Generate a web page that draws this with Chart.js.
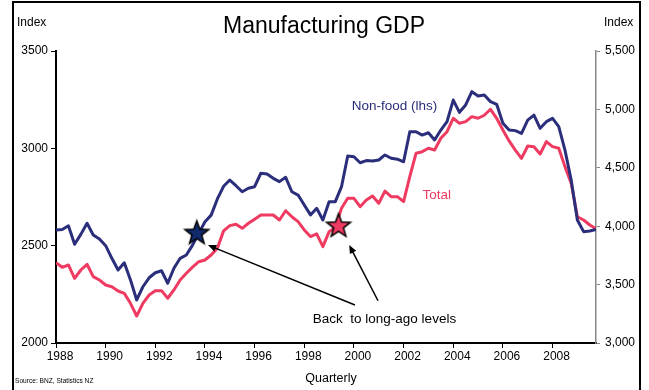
<!DOCTYPE html>
<html>
<head>
<meta charset="utf-8">
<script src="https://cdn.jsdelivr.net/npm/chart.js@4.4.1/dist/chart.umd.min.js"></script>
<style>
  html, body { margin: 0; padding: 0; background: #fff; }
</style>
</head>
<body>
<canvas id="myChart" width="649" height="390"></canvas>
<script>
// quarterly index, 1988 Q1 .. 2009 Q4
const firstYear = 1988;
const nonFood = [
    2580, 2583, 2602, 2507, 2558, 2615, 2555, 2534,
    2500, 2435, 2375, 2412, 2324, 2221, 2289, 2335,
    2361, 2371, 2307, 2384, 2435, 2452, 2503, 2563,
    2623, 2657, 2740, 2805, 2837, 2808, 2777, 2795,
    2803, 2872, 2868, 2846, 2829, 2851, 2777, 2760,
    2709, 2658, 2692, 2632, 2726, 2726, 2803, 2961,
    2957, 2926, 2937, 2935, 2940, 2966, 2949, 2944,
    2931, 3085, 3085, 3068, 3080, 3043, 3094, 3137,
    3248, 3185, 3223, 3291, 3269, 3274, 3240, 3226,
    3129, 3094, 3091, 3077, 3145, 3171, 3103, 3137,
    3154, 3111, 2991, 2837, 2632, 2572, 2575, 2583
];
const total = [
    3688, 3648, 3668, 3554, 3625, 3674, 3568, 3539,
    3497, 3482, 3445, 3425, 3340, 3231, 3340, 3411,
    3448, 3448, 3383, 3454, 3539, 3597, 3650, 3696,
    3711, 3753, 3811, 3960, 4005, 4016, 3982, 4025,
    4060, 4096, 4096, 4096, 4053, 4132, 4081, 4039,
    3968, 3911, 3934, 3825, 3953, 3990, 4153, 4239,
    4239, 4167, 4224, 4259, 4196, 4300, 4253, 4253,
    4210, 4424, 4624, 4638, 4667, 4652, 4753, 4809,
    4924, 4881, 4895, 4938, 4924, 4950, 5001, 4924,
    4824, 4730, 4652, 4581, 4687, 4681, 4618, 4724,
    4681, 4667, 4510, 4367, 4081, 4053, 4010, 3978
];
const leftTicks = [2000, 2500, 3000, 3500];
const rightTicks = [3000, 3500, 4000, 4500, 5000, 5500];
// "back to long-ago levels" markers
const starNonFood = { x: 1993.67, y: 2563 };
const starTotal = { x: 1999.38, y: 4000 };

const navy = '#2b2e7a';
const pink = '#ef3b62';
const fontFam = '"Liberation Sans", Arial, sans-serif';

const quarters = nonFood.map((v, i) => firstYear + i / 4);

function makeStar(fill) {
    const c = document.createElement('canvas');
    c.width = 30; c.height = 30;
    const g = c.getContext('2d');
    g.beginPath();
    for (let k = 0; k < 10; k++) {
        const r = k % 2 === 0 ? 12.5 : 5.2;
        const a = -Math.PI / 2 + k * Math.PI / 5;
        g.lineTo(15 + r * Math.cos(a), 15 + r * Math.sin(a));
    }
    g.closePath();
    g.fillStyle = fill;
    g.fill();
    g.lineWidth = 1.5;
    g.strokeStyle = '#000';
    g.stroke();
    return c;
}

//Texts, arrows and frame
const extras = {
    id: 'extras',
    afterDatasetsDraw(chart) {
        const ctx = chart.ctx;
        const xs = chart.scales.x, yl = chart.scales.yL, yr = chart.scales.yR;
        ctx.save();

        // arrows
        const arrows = [
            [2000.04, 2195, 1994.12, 2503],
            [2000.97, 2217, 1999.81, 2503]
        ];
        ctx.strokeStyle = '#000';
        ctx.fillStyle = '#000';
        ctx.lineWidth = 1.5;
        arrows.forEach(a => {
            const x1 = xs.getPixelForValue(a[0]), y1 = yl.getPixelForValue(a[1]);
            const x2 = xs.getPixelForValue(a[2]), y2 = yl.getPixelForValue(a[3]);
            const ang = Math.atan2(y2 - y1, x2 - x1);
            ctx.beginPath();
            ctx.moveTo(x1, y1);
            ctx.lineTo(x2 - 6 * Math.cos(ang), y2 - 6 * Math.sin(ang));
            ctx.stroke();
            ctx.beginPath();
            ctx.moveTo(x2, y2);
            ctx.lineTo(x2 - 9 * Math.cos(ang - 0.4), y2 - 9 * Math.sin(ang - 0.4));
            ctx.lineTo(x2 - 9 * Math.cos(ang + 0.4), y2 - 9 * Math.sin(ang + 0.4));
            ctx.closePath();
            ctx.fill();
        });

        ctx.textAlign = 'center';
        ctx.textBaseline = 'middle';
        ctx.font = '13.5px ' + fontFam;
        ctx.fillStyle = navy;
        ctx.fillText('Non-food (lhs)', xs.getPixelForValue(2001.63), yl.getPixelForValue(3214));
        ctx.fillStyle = pink;
        ctx.fillText('Total', xs.getPixelForValue(2003.34), yr.getPixelForValue(4261));
        ctx.fillStyle = '#000';
        ctx.fillText('Back  to long-ago levels', xs.getPixelForValue(2001.23), yl.getPixelForValue(2122));
        ctx.restore();
    },
    afterDraw(chart) {
        const ctx = chart.ctx;
        ctx.save();
        ctx.fillStyle = '#000';
        ctx.textBaseline = 'middle';
        ctx.textAlign = 'center';
        ctx.font = '23px ' + fontFam;
        ctx.fillText('Manufacturing GDP', 324, 27);
        ctx.font = '12.5px ' + fontFam;
        ctx.fillText('Quarterly', 331, 379);
        ctx.textAlign = 'left';
        ctx.font = '12px ' + fontFam;
        ctx.fillText('Index', 17, 23);
        ctx.fillText('Index', 604, 23);
        ctx.font = '6.6px ' + fontFam;
        ctx.fillText('Source: BNZ, Statistics NZ', 15, 381);
        ctx.strokeStyle = '#000';
        ctx.lineWidth = 2;
        ctx.strokeRect(13, 2, 627, 400);
        ctx.restore();
    }
};

const ctx = document.getElementById('myChart').getContext('2d');
const myChart = new Chart(ctx, {
    type: 'line',
    data: {
        datasets: [
            {
                label: 'Non-food (lhs)',
                data: quarters.map((q, i) => ({ x: q, y: nonFood[i] })),
                yAxisID: 'yL',
                borderColor: navy,
                borderWidth: 3,
                pointRadius: 0,
                borderJoinStyle: 'round',
                order: 2
            },
            {
                label: 'Total',
                data: quarters.map((q, i) => ({ x: q, y: total[i] })),
                yAxisID: 'yR',
                borderColor: pink,
                borderWidth: 3,
                pointRadius: 0,
                borderJoinStyle: 'round',
                order: 3
            },
            {
                label: 'star1',
                data: [starNonFood],
                yAxisID: 'yL',
                showLine: false,
                pointStyle: makeStar('#102a6b'),
                pointRadius: 12,
                order: 0
            },
            {
                label: 'star2',
                data: [starTotal],
                yAxisID: 'yR',
                showLine: false,
                pointStyle: makeStar(pink),
                pointRadius: 12,
                order: 0
            }
        ]
    },
    options: {
        responsive: false,
        animation: false,
        layout: { padding: { top: 51, left: 0, right: 0, bottom: 0 } },
        plugins: { legend: { display: false }, tooltip: { enabled: false } },
        scales: {
            x: {
                type: 'linear',
                min: firstYear,
                max: firstYear + (nonFood.length - 1) / 4,
                grid: { drawOnChartArea: false, tickLength: 5, color: '#000' },
                border: { color: '#000', width: 2 },
                ticks: {
                    stepSize: 2, includeBounds: false, autoSkip: false, maxRotation: 0,
                    callback: v => String(v),
                    color: '#000', font: { family: fontFam, size: 12 }, padding: 1, labelOffset: 4
                },
                afterFit: s => { s.height = 47; }
            },
            yL: {
                position: 'left',
                min: 2000, max: 3500,
                afterBuildTicks: s => { s.ticks = leftTicks.map(v => ({ value: v })); },
                grid: { drawOnChartArea: false, tickLength: 5, color: '#000' },
                border: { color: '#000', width: 2 },
                ticks: { callback: v => String(v), color: '#000', font: { family: fontFam, size: 12 }, padding: 3 },
                afterFit: s => { s.width = 56; }
            },
            yR: {
                position: 'right',
                min: 3000, max: 5500,
                afterBuildTicks: s => { s.ticks = rightTicks.map(v => ({ value: v })); },
                grid: { drawOnChartArea: false, tickLength: 4, color: '#888' },
                border: { color: '#888', width: 1.5 },
                ticks: { callback: v => v.toLocaleString('en-US'), color: '#000', font: { family: fontFam, size: 12 }, padding: 5 },
                afterFit: s => { s.width = 53; }
            }
        }
    },
    plugins: [extras]
});
</script>
</body>
</html>
